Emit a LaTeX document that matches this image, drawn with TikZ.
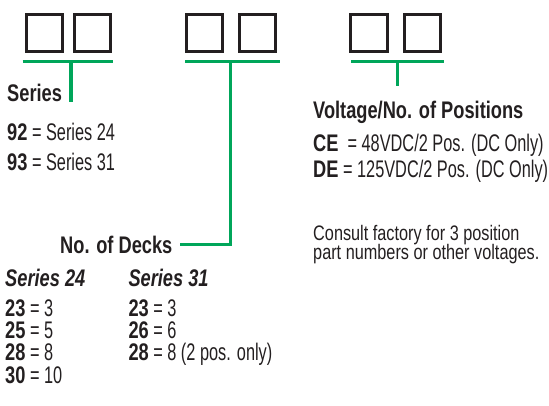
\documentclass[tikz,border=0pt]{standalone}
\usepackage{fontspec}
\newfontfamily\rf[FakeStretch=0.68]{Liberation Sans}
\newfontfamily\rfw[FakeStretch=0.775]{Liberation Sans}
\newfontfamily\hb[FakeStretch=0.76]{Liberation Sans}
\newcommand{\bx}[1]{{\hb\bfseries #1}}
\newcommand{\bix}[1]{{\hb\bfseries\itshape #1}}
\newcommand{\tightlines}{\lineskiplimit=-100pt\relax}
\definecolor{ink}{HTML}{231F20}
\definecolor{grn}{RGB}{0,166,90}
\begin{document}
\begin{tikzpicture}[x=1pt,y=-1pt,
  cell/.style={draw=ink,line width=3pt},
  gline/.style={draw=grn,line width=3.2pt},
  txt/.style={anchor=base west,inner sep=0pt,text=ink,font=\rf\fontsize{24}{16.8}\selectfont}]
\useasboundingbox (0,0) rectangle (549,405);
% boxes
\draw[cell] (26.5,14.8) rectangle (62.7,51.2);
\draw[cell] (74.2,14.8) rectangle (110.5,51.2);
\draw[cell] (186.5,14.8) rectangle (222.8,51.2);
\draw[cell] (239.2,14.8) rectangle (275.5,51.2);
\draw[cell] (350.8,14.8) rectangle (387,51.2);
\draw[cell] (404.2,14.8) rectangle (440.8,51.2);
% brackets
\coordinate (b1l) at (22.7,61.7); \coordinate (b1r) at (113.3,61.7);
\coordinate (b1m) at (71,61.7);   \coordinate (b1e) at (71,101.5);
\coordinate (b2l) at (185,61.7);  \coordinate (b2r) at (280.3,61.7);
\coordinate (b2m) at (230.3,61.7);
\coordinate (b3l) at (351,61.7);  \coordinate (b3r) at (444,61.7);
\coordinate (b3m) at (397.3,61.7); \coordinate (b3e) at (397.3,85.7);
\draw[gline] (b1l) -- (b1r);
\draw[gline] (b1m) -- (b1e);
\draw[gline] (b2l) -- (b2r);
\draw[gline] (b3l) -- (b3r);
\draw[gline] (b3m) -- (b3e);
% left texts
\node[txt] (series) at (7,101.7) {\bx{Series}};
\node[txt] (s92) at (7,140) {\bx{92} = Series 24};
\node[txt] (s93) at (7,170) {\bx{93} = Series 31};
\node[txt] (decks) at (60,253.3) {\bx{No. of Decks}};
\draw[gline] (b2m) -- (b2m |- decks.east) -- ([xshift=7pt]decks.east);
\node[txt] (h24) at (5,286) {\bix{Series 24}};
\node[txt] (h31) at (128.3,286) {\bix{Series 31}};
\node[txt] (a1) at (5,316) {\bx{23} = 3};
\node[txt] (a2) at (5,338) {\bx{25} = 5};
\node[txt] (a3) at (5,360) {\bx{28} = 8};
\node[txt] (a4) at (5,383) {\bx{30} = 10};
\node[txt] (c1) at (128.3,316) {\bx{23} = 3};
\node[txt] (c2) at (128.3,338) {\bx{26} = 6};
\node[txt] (c3) at (128.3,360) {\bx{28} = 8 (2 pos. only)};
% right texts
\node[txt] (volt) at (313,118.3) {\bx{Voltage/No. of Positions}};
\node[txt] (ce) at (313,151.7) {\bx{CE} \ = 48VDC/2 Pos. (DC Only)};
\node[txt] (de) at (313,177.3) {\bx{DE} = 125VDC/2 Pos. (DC Only)};
\node[txt,align=left,font=\rfw\fontsize{21}{19.3}\selectfont\tightlines] (cons) at (313,259.5) {Consult factory for 3 position\\part numbers or other voltages.};
\end{tikzpicture}
\end{document}
